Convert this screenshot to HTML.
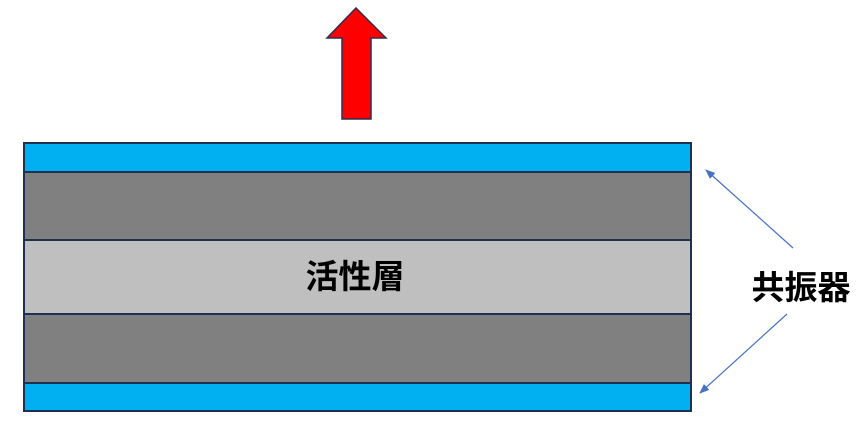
<!DOCTYPE html>
<html><head><meta charset="utf-8"><style>
html,body{margin:0;padding:0;background:#fff;width:862px;height:441px;overflow:hidden}
text{font-family:"Liberation Sans","Noto Sans CJK JP",sans-serif;font-weight:bold}
</style></head><body>
<svg width="862" height="441" xmlns="http://www.w3.org/2000/svg">
<defs><marker id="ah" markerWidth="10" markerHeight="8" refX="9" refY="4" orient="auto" markerUnits="userSpaceOnUse"><path d="M0,0 L10,4 L0,8 z" fill="#4472c4"/></marker></defs>
<polygon points="356,8 386,38 371,38 371,119 342,119 342,38 327,38" fill="#ff0000" stroke="#2f2f4f" stroke-width="1.5"/>
<rect x="24" y="143" width="667" height="29" fill="#00b0f0" stroke="#1f3050" stroke-width="2"/>
<rect x="24" y="172" width="667" height="68" fill="#808080" stroke="#1f3050" stroke-width="2"/>
<rect x="24" y="240" width="667" height="74" fill="#bfbfbf" stroke="#1f3050" stroke-width="2"/>
<rect x="24" y="314" width="667" height="69" fill="#808080" stroke="#1f3050" stroke-width="2"/>
<rect x="24" y="383" width="667" height="28" fill="#00b0f0" stroke="#1f3050" stroke-width="2"/>
<text x="355" y="288" font-size="33" text-anchor="middle">活性層</text>
<text x="801" y="299" font-size="33" text-anchor="middle">共振器</text>
<line x1="793" y1="248" x2="706" y2="170" stroke="#4472c4" stroke-width="1.2" marker-end="url(#ah)"/>
<line x1="787" y1="314" x2="700" y2="393" stroke="#4472c4" stroke-width="1.2" marker-end="url(#ah)"/>
</svg>
</body></html>
